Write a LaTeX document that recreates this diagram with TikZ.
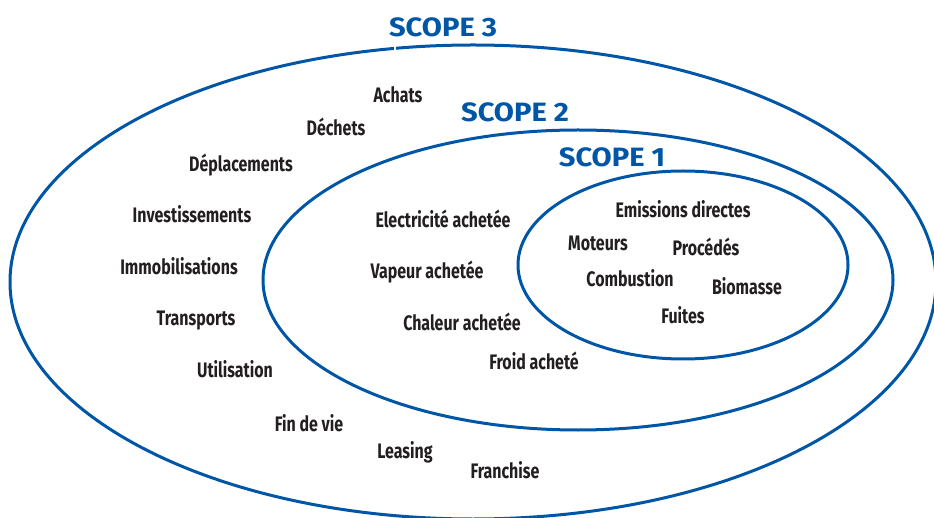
\documentclass[tikz,border=0pt]{standalone}
\usepackage{fontspec}
\setmainfont{Fira Sans}[FakeStretch=0.76]
\newfontfamily\scopefont{Fira Sans}[FakeStretch=1.1]
\definecolor{scopeblue}{RGB}{0,86,166}
\definecolor{itemgray}{RGB}{35,31,32}

\begin{document}
\begin{tikzpicture}[x=1pt, y=-1pt,
    every node/.style={inner sep=0pt},
    item/.style={font=\fontsize{21}{21}\selectfont\bfseries, text=itemgray},
    scopelabel/.style={font=\scopefont\fontsize{26.5}{26.5}\selectfont\bfseries, text=scopeblue},
    ring/.style={draw=scopeblue, line width=3pt}]

    \useasboundingbox (0,0) rectangle (934,518);
    \clip (0,0) rectangle (934,518);

    % Ellipses
    \draw[ring] (473,282) ellipse [x radius=463, y radius=237];
    \draw[ring] (578,280) ellipse [x radius=315, y radius=150];
    \draw[ring] (683,265) ellipse [x radius=165, y radius=94];
    \fill[white] (393.5,40) rectangle (395.5,52);

    % Scopes
    \node[scopelabel] (scope3) at (443,27) {SCOPE 3};
    \node[scopelabel] (scope2) at (515,112) {SCOPE 2};
    \node[scopelabel] (scope1) at (612,157) {SCOPE 1};

    % Scope 3 items
    \node[item] (achats) at (398,95) {Achats};
    \node[item] (dechets) at (336,127) {Déchets};
    \node[item] (deplacements) at (241,165) {Déplacements};
    \node[item] (investissements) at (192,214) {Investissements};
    \node[item] (immobilisations) at (179,266) {Immobilisations};
    \node[item] (transports) at (196,321) {Transports};
    \node[item] (utilisation) at (235,369) {Utilisation};
    \node[item] (findevie) at (309,423) {Fin de vie};
    \node[item] (leasing) at (405,452) {Leasing};
    \node[item] (franchise) at (505,470) {Franchise};

    % Scope 2 items
    \node[item] (electricite) at (443,219) {Electricité achetée};
    \node[item] (vapeur) at (427,272) {Vapeur achetée};
    \node[item] (chaleur) at (462,322) {Chaleur achetée};
    \node[item] (froid) at (534,361) {Froid acheté};

    % Scope 1 items
    \node[item] (emissions) at (683,209) {Emissions directes};
    \node[item] (moteurs) at (598,243) {Moteurs};
    \node[item] (procedes) at (706,247) {Procédés};
    \node[item] (combustion) at (630,278) {Combustion};
    \node[item] (biomasse) at (747,286) {Biomasse};
    \node[item] (fuites) at (683,315) {Fuites};

\end{tikzpicture}
\end{document}
